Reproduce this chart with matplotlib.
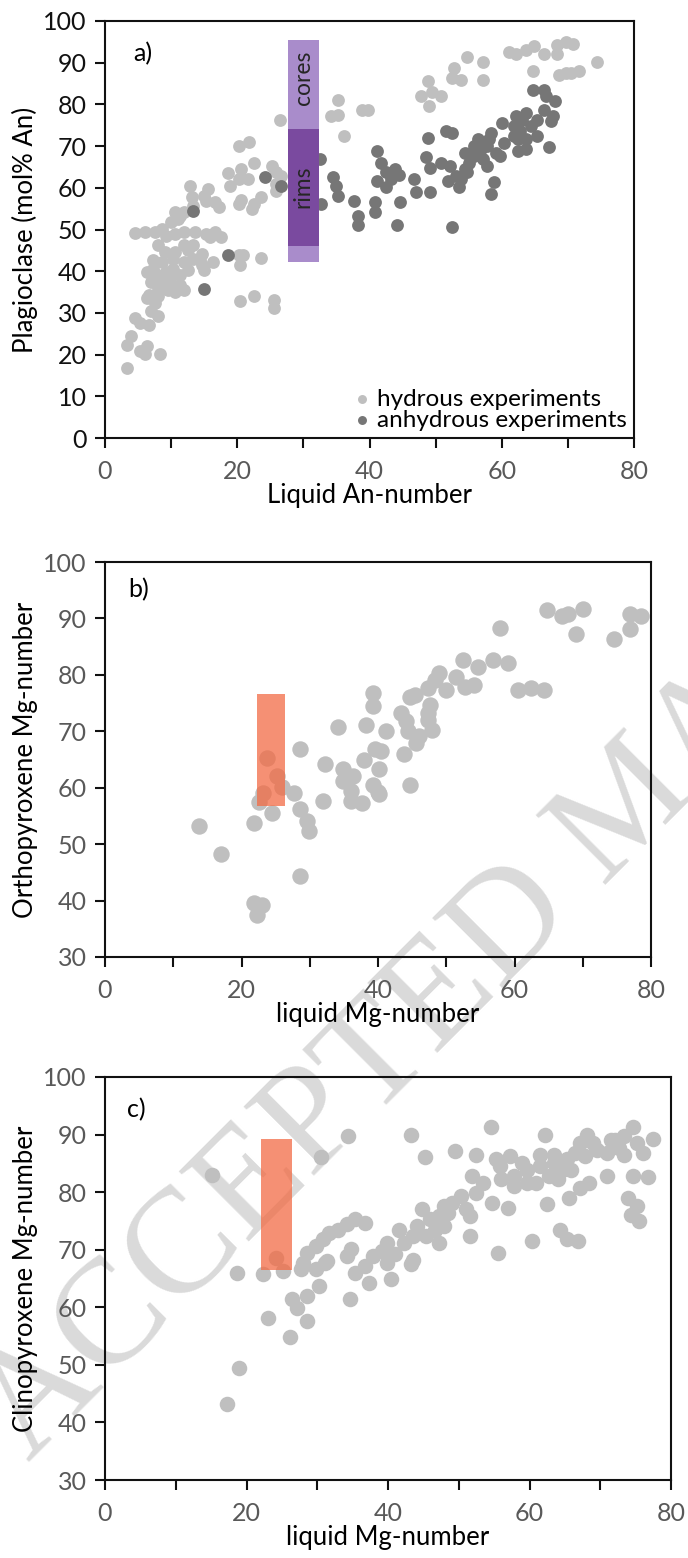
import numpy as np
import matplotlib
matplotlib.use('Agg')
import matplotlib.pyplot as plt
from matplotlib.ticker import MultipleLocator

plt.rcParams['font.family'] = ['Lato', 'DejaVu Sans']

# ---- data ----
# a) plagioclase vs liquid An-number
hyd_x = [69.7, 70.7, 68.4, 64.9, 63.7, 61.1, 62.1, 66.4, 68.4, 74.4, 54.8, 57.1, 52.8, 52.5,
         53.8, 57.1, 64.7, 68.7, 69.7, 71.7, 70.4, 48.8, 47.8, 49.5, 50.8, 49.0, 35.2, 35.2,
         34.2, 38.8, 39.8, 36.1, 26.4, 20.2, 21.8, 22.6, 25.2, 18.6, 20.6, 20.2, 18.9, 21.6,
         25.9, 26.6, 23.6, 22.6, 22.3, 20.6, 20.2, 25.9, 25.9, 15.6, 14.9, 15.3, 16.6, 17.3,
         12.9, 13.1, 13.3, 12.0, 10.6, 11.0, 11.3, 10.0, 8.6, 7.6, 4.6, 6.1, 9.2, 10.6, 12.0,
         13.6, 15.3, 16.6, 17.6, 15.9, 13.3, 12.0, 8.0, 9.0, 10.6, 12.6, 14.6, 14.3, 16.3,
         7.3, 8.6, 10.3, 12.0, 13.3, 14.6, 20.2, 20.9, 23.6, 20.4, 6.3, 7.3, 8.0, 9.3, 10.3,
         11.3, 12.6, 14.9, 6.9, 8.6, 9.9, 11.3, 8.0, 9.6, 10.6, 6.6, 20.4, 22.6, 25.6, 25.6,
         9.3, 10.6, 11.9, 6.3, 8.0, 7.6, 6.9, 8.0, 4.6, 5.3, 6.6, 4.0, 3.3, 5.3, 6.3, 6.0,
         8.3, 3.3]
hyd_y = [95.0, 94.4, 94.2, 94.0, 93.0, 92.6, 92.2, 92.2, 92.2, 90.2, 91.3, 90.2, 88.7, 86.3,
         85.9, 85.9, 87.9, 87.1, 87.5, 87.9, 87.6, 85.5, 81.9, 82.9, 82.1, 79.5, 81.1, 77.5,
         77.1, 78.6, 78.6, 72.4, 76.3, 70.0, 71.0, 66.0, 65.2, 63.5, 64.4, 62.1, 60.5, 62.1,
         63.7, 62.9, 57.7, 56.1, 54.9, 57.0, 56.1, 59.3, 60.9, 59.7, 58.1, 56.9, 56.5, 55.3,
         60.5, 57.7, 55.7, 54.1, 54.1, 52.5, 53.3, 51.7, 50.2, 49.4, 49.2, 49.4, 48.4, 49.0, 49.4,
         49.4, 49.0, 49.4, 48.2, 48.2, 46.2, 46.2, 46.2, 44.6, 44.6, 45.0, 44.2, 42.6, 42.2,
         42.6, 42.2, 43.0, 42.2, 43.0, 41.4, 43.8, 43.8, 43.2, 41.4, 39.8, 40.6, 39.0, 39.8, 40.6,
         39.0, 40.2, 40.2, 37.5, 37.5, 37.9, 36.7, 35.9, 35.5, 35.1, 34.3, 32.8, 34.0, 33.0, 31.2,
         37.1, 36.3, 35.6, 33.6, 34.0, 32.4, 30.4, 29.2, 28.8, 27.6, 27.2, 24.4, 22.2, 20.9, 22.1, 20.1,
         20.1, 16.7]
anh_x = [24.2, 13.3, 18.6, 14.9, 26.6, 32.5, 32.7, 34.5, 35.0, 35.2, 37.7, 38.2, 38.2, 41.2,
         41.8, 41.2, 42.5, 42.5, 40.8, 40.8, 43.2, 43.8, 44.5, 44.6, 44.2, 46.8, 47.1, 49.1,
         48.8, 51.5, 52.5, 48.5, 49.1, 50.8, 52.1, 51.8, 53.8, 53.5, 52.5, 54.4, 54.8, 55.8,
         56.4, 56.8, 57.1, 57.8, 58.1, 58.4, 59.1, 59.8, 58.8, 58.4, 60.1, 62.1, 61.8, 62.7,
         63.1, 63.7, 62.4, 63.7, 62.4, 64.4, 65.4, 65.4, 64.7, 66.4, 66.7, 68.0, 66.4, 67.7,
         67.4, 67.1, 63.7, 61.8, 55.8, 55.1, 53.1, 54.4, 57.8, 60.4]
anh_y = [62.7, 54.4, 43.8, 35.7, 60.5, 66.8, 56.1, 62.5, 60.5, 58.1, 56.9, 53.3, 51.1, 68.8,
         66.0, 61.7, 63.7, 60.1, 56.5, 54.1, 62.1, 64.5, 63.0, 56.5, 51.1, 62.1, 58.9, 58.9,
         72.0, 73.6, 73.2, 67.3, 64.8, 66.0, 65.2, 61.7, 62.1, 60.3, 50.7, 68.4, 63.7, 70.0,
         71.6, 69.2, 66.8, 65.2, 71.6, 73.2, 68.4, 67.6, 61.3, 58.5, 75.6, 77.1, 74.8, 73.6,
         76.3, 77.9, 71.6, 71.6, 68.8, 74.8, 76.3, 72.4, 83.5, 83.5, 81.9, 80.7, 78.7, 77.1,
         75.9, 69.8, 69.4, 72.4, 67.6, 66.0, 62.9, 64.5, 70.0, 70.8]
cores = [27.6, 32.3, 42.3, 95.4]   # x0, x1, y0, y1
rims = [27.6, 32.3, 46.0, 74.0]

# b) orthopyroxene vs liquid Mg-number
opx_x = [64.7, 66.9, 67.9, 70.1, 69.0, 74.6, 76.9, 78.5, 76.9, 57.9, 52.4, 54.7, 56.9, 59.1,
         60.5, 62.4, 64.3, 48.9, 51.5, 54.1, 52.8, 48.3, 49.9, 47.3, 45.4, 44.7, 47.6, 47.3,
         47.3, 47.9, 46.0, 45.6, 43.4, 44.1, 44.4, 41.2, 39.3, 39.3, 38.3, 34.1, 28.6, 39.6,
         40.5, 38.0, 43.8, 40.2, 32.3, 34.8, 36.4, 34.8, 39.3, 40.0, 44.7, 23.8, 25.2, 26.0,
         27.7, 28.5, 22.5, 24.4, 32.0, 36.0, 36.0, 37.6, 40.2, 21.9, 29.6, 29.9, 13.8, 17.0,
         28.6, 21.9, 23.0, 22.2, 23.2]
opx_y = [91.5, 90.5, 90.8, 91.6, 87.3, 86.4, 90.8, 90.5, 88.2, 88.3, 82.6, 81.4, 82.6, 82.1,
         77.3, 77.6, 77.4, 80.4, 79.6, 78.2, 77.9, 79.1, 77.3, 77.6, 76.4, 76.1, 74.7, 73.2,
         72.0, 70.3, 69.1, 68.0, 73.2, 71.8, 70.0, 70.0, 76.7, 74.4, 71.2, 70.8, 66.8, 66.8,
         66.5, 65.0, 65.9, 63.3, 64.2, 63.3, 62.1, 61.2, 60.4, 59.2, 60.5, 65.3, 62.0, 60.1,
         59.1, 56.3, 57.5, 55.6, 57.6, 59.4, 57.6, 57.3, 58.8, 53.8, 54.1, 52.3, 53.2, 48.3,
         44.4, 39.6, 39.2, 37.5, 59.1]
opx_bar = [22.2, 26.4, 56.8, 76.6]

# c) clinopyroxene vs liquid Mg-number
cpx_x = [15.1, 34.4, 43.2, 30.6, 45.2, 49.5, 52.4, 54.6, 55.3, 57.2, 62.2, 68.1, 74.6, 77.4,
         76.1, 74.6, 76.8, 73.9, 75.2, 74.3, 75.5, 70.9, 68.4, 67.1, 65.6, 62.5, 56.9, 54.7,
         51.6, 55.6, 60.3, 64.3, 65.3, 66.8, 51.9, 53.4, 52.5, 56.0, 57.8, 59.7, 61.5, 63.4,
         65.3, 66.5, 67.8, 69.6, 72.1, 73.3, 57.8, 59.7, 62.8, 64.0, 65.9, 61.5, 63.4, 64.6,
         55.9, 59.0, 60.9, 67.1, 69.0, 70.9, 72.7, 75.2, 71.5, 73.3, 50.3, 49.1, 47.9, 48.5,
         51.0, 51.6, 47.2, 46.0, 44.8, 44.1, 46.6, 47.9, 45.4, 47.2, 43.5, 41.6, 42.3, 39.8,
         39.2, 41.0, 39.8, 37.9, 36.7, 34.8, 34.2, 35.4, 37.3, 40.4, 43.2, 43.5, 36.7, 35.4,
         34.2, 32.9, 31.7, 30.8, 29.8, 28.6, 28.0, 31.1, 29.8, 31.4, 27.7, 18.6, 22.4, 24.2,
         25.2, 30.3, 28.6, 26.4, 27.1, 34.6, 23.1, 28.6, 26.1, 19.0, 17.3]
cpx_y = [82.9, 89.7, 90.0, 86.1, 86.1, 87.1, 86.5, 91.4, 85.7, 86.2, 90.0, 90.0, 91.4, 89.2,
         86.8, 82.8, 82.7, 79.0, 77.6, 76.1, 75.0, 82.8, 81.6, 80.8, 79.0, 77.9, 77.3, 78.2,
         72.4, 69.5, 71.5, 73.5, 71.8, 71.6, 82.8, 81.6, 79.9, 82.2, 82.8, 83.9, 84.5, 85.1,
         85.7, 86.8, 86.2, 87.4, 89.1, 89.7, 81.0, 81.6, 82.8, 82.2, 83.9, 86.5, 86.5, 83.9,
         84.5, 85.1, 81.6, 88.6, 88.6, 86.8, 87.7, 88.6, 89.1, 86.5, 79.3, 78.2, 77.6, 76.4,
         77.0, 75.8, 75.8, 75.3, 77.0, 74.1, 73.5, 74.1, 72.4, 71.2, 72.4, 73.5, 71.2, 71.2,
         69.8, 69.2, 67.7, 68.9, 67.2, 70.1, 68.9, 66.0, 64.3, 64.9, 67.5, 68.3, 74.7, 75.3,
         74.4, 73.5, 72.9, 71.8, 70.6, 69.5, 67.7, 67.7, 66.6, 68.1, 66.6, 66.0, 65.7, 68.6,
         66.3, 63.7, 62.0, 61.4, 59.9, 61.4, 58.2, 57.6, 54.9, 49.5, 43.2]
cpx_bar = [22.0, 26.4, 66.5, 89.2]

W, H = 688, 1558
LIGHT = '#BFBFBF'
DARK = '#767676'
TICKGREY = '#595959'
TICKFS = 18
LABELFS = 18.5


def px_axes(fig, l, t, r, b):
    # axes from pixel box (left, top, right, bottom)
    return fig.add_axes([l / W, 1 - b / H, (r - l) / W, (b - t) / H])


def style(ax, ylo, ycol):
    ax.set_facecolor('none')
    ax.set_xlim(0, 80)
    ax.set_ylim(ylo, 100)
    ax.xaxis.set_major_locator(MultipleLocator(20))
    ax.xaxis.set_minor_locator(MultipleLocator(10))
    ax.yaxis.set_major_locator(MultipleLocator(10))
    for s in ax.spines.values():
        s.set_linewidth(1.5)
        s.set_color('#111111')
    ax.tick_params(which='both', direction='out', length=7, width=1.5, color='#111111')
    ax.tick_params(axis='x', which='both', pad=9, labelsize=TICKFS, labelcolor=TICKGREY)
    ax.tick_params(axis='y', pad=6, labelsize=TICKFS, labelcolor=ycol)
    ax.yaxis.set_label_coords(-67 / (ax.get_position().width * W), 0.5)


fig = plt.figure(figsize=(W / 100, H / 100), dpi=100)

# watermark
fig.text(28 / W, 1 - 1462 / H, 'ACCEPTED MANUSCRIPT', rotation=45, rotation_mode='anchor',
         ha='left', va='baseline', fontsize=108, color='#dadada',
         family=['Liberation Serif', 'DejaVu Serif'], zorder=-5)

# ---- panel a ----
ax = px_axes(fig, 105, 21, 634, 438)
ax.scatter(hyd_x, hyd_y, s=85, color=LIGHT, linewidths=0, label='hydrous experiments', zorder=2)
ax.scatter(anh_x, anh_y, s=85, color=DARK, linewidths=0, label='anhydrous experiments', zorder=3)
ax.fill_between([cores[0], cores[1]], cores[2], cores[3], color='#A98CCB', lw=0, zorder=4)
ax.fill_between([rims[0], rims[1]], rims[2], rims[3], color='#7A4A9F', lw=0, zorder=5)
xm = (cores[0] + cores[1]) / 2
ax.text(xm, 86.3, 'cores', rotation=90, ha='center', va='center', fontsize=16.5, color='#262626', zorder=6)
ax.text(xm, 60.3, 'rims', rotation=90, ha='center', va='center', fontsize=16.5, color='#262626', zorder=6)
ax.text(0.053, 0.921, 'a)', transform=ax.transAxes, ha='left', va='center', fontsize=18)
style(ax, 0, '#111111')
ax.set_xlabel('Liquid An-number', fontsize=LABELFS, labelpad=0)
ax.set_ylabel('Plagioclase (mol% An)', fontsize=LABELFS)
ax.legend(loc='lower right', frameon=False, fontsize=17.5, markerscale=0.7, handletextpad=0.2,
          labelspacing=0.0, borderaxespad=0.1, borderpad=0.2, handlelength=0.8)

# ---- panel b ----
ax = px_axes(fig, 105, 562, 651, 957)
ax.scatter(opx_x, opx_y, s=140, color=LIGHT, linewidths=0, zorder=2)
ax.fill_between([opx_bar[0], opx_bar[1]], opx_bar[2], opx_bar[3], color='#F26B45', alpha=0.75, lw=0, zorder=4)
ax.text(0.042, 0.929, 'b)', transform=ax.transAxes, ha='left', va='center', fontsize=18)
style(ax, 30, TICKGREY)
ax.set_xlabel('liquid Mg-number', fontsize=LABELFS, labelpad=0)
ax.set_ylabel('Orthopyroxene Mg-number', fontsize=LABELFS)

# ---- panel c ----
ax = px_axes(fig, 105, 1077, 671, 1480)
ax.scatter(cpx_x, cpx_y, s=125, color=LIGHT, linewidths=0, zorder=2)
ax.fill_between([cpx_bar[0], cpx_bar[1]], cpx_bar[2], cpx_bar[3], color='#F26B45', alpha=0.75, lw=0, zorder=4)
ax.text(0.039, 0.918, 'c)', transform=ax.transAxes, ha='left', va='center', fontsize=18)
style(ax, 30, TICKGREY)
ax.set_xlabel('liquid Mg-number', fontsize=LABELFS, labelpad=0)
ax.set_ylabel('Clinopyroxene Mg-number', fontsize=LABELFS)

fig.savefig('out.png', dpi=100)
